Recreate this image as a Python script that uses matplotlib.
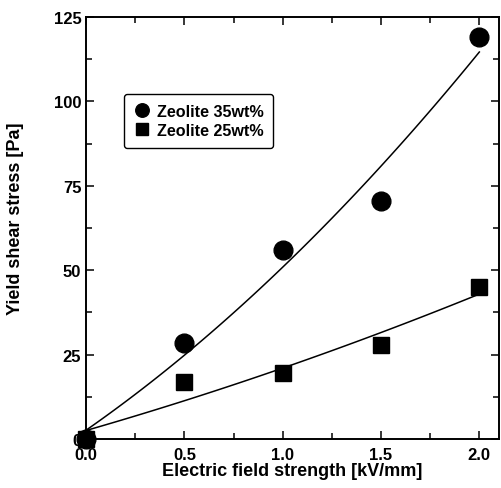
import matplotlib
matplotlib.use("Agg")
import matplotlib.pyplot as plt
import numpy as np
from matplotlib.ticker import MultipleLocator

plt.rcParams['font.family'] = ['Liberation Sans', 'DejaVu Sans']
plt.rcParams['font.weight'] = 'bold'

field = [0.0, 0.5, 1.0, 1.5, 2.0]
stress_35 = [0.0, 28.5, 56.0, 70.5, 119.0]
stress_25 = [0.0, 17.0, 19.5, 28.0, 45.0]

fig = plt.figure(figsize=(5.01, 4.89), dpi=100)
ax = fig.add_axes([0.172, 0.100, 0.824, 0.863])

xs = np.linspace(0, 2.0, 100)
for ys in (stress_35, stress_25):
    c = np.polyfit(field, ys, 2)
    ax.plot(xs, np.polyval(c, xs), color='black', lw=1.1)

ax.plot(field, stress_35, 'o', color='black', ms=13.5, clip_on=False,
        label='Zeolite 35wt%')
ax.plot(field, stress_25, 's', color='black', ms=11.5, clip_on=False,
        label='Zeolite 25wt%')

ax.set_xlim(0, 2.1)
ax.set_ylim(0, 125)
ax.xaxis.set_major_locator(MultipleLocator(0.5))
ax.xaxis.set_minor_locator(MultipleLocator(0.25))
ax.yaxis.set_major_locator(MultipleLocator(25))
ax.yaxis.set_minor_locator(MultipleLocator(12.5))
ax.xaxis.set_major_formatter(matplotlib.ticker.FormatStrFormatter('%.1f'))
ax.tick_params(which='both', direction='in', top=True, right=True,
               labelsize=12, width=1.1)
ax.tick_params(axis='x', pad=6)
ax.tick_params(which='major', length=6)
ax.tick_params(which='minor', length=4)
for s in ax.spines.values():
    s.set_linewidth(1.4)

ax.set_xlabel('Electric field strength [kV/mm]', fontsize=13, fontweight='bold', labelpad=0)
ax.set_ylabel('Yield shear stress [Pa]', fontsize=13, fontweight='bold')
ax.yaxis.set_label_coords(-0.150, 0.525)

leg = ax.legend(loc='upper left', bbox_to_anchor=(0.092, 0.8175), fontsize=11.6,
                borderaxespad=0, handletextpad=0.4, borderpad=0.62,
                labelspacing=0.25, handlelength=1.0, fancybox=True,
                framealpha=1, edgecolor='black', markerscale=0.72)
leg.get_frame().set_linewidth(1.0)

fig.savefig('out.png', dpi=100)
